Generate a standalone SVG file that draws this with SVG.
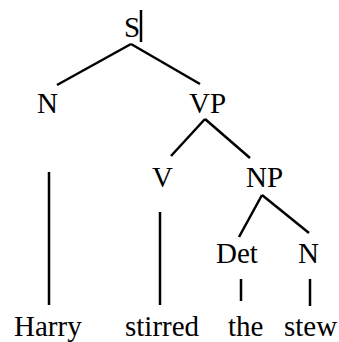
<svg xmlns="http://www.w3.org/2000/svg" width="339" height="342" viewBox="0 0 339 342">
<style>
text{font-family:"Liberation Serif","Times New Roman",serif;font-size:29px;fill:#000}
line{stroke:#000;stroke-width:2.5;stroke-linecap:butt}
</style>
<rect width="339" height="342" fill="#fff"/>
<g id="connectors">
<line x1="131" y1="44" x2="57" y2="85"/>
<line x1="131" y1="44" x2="200" y2="84"/>
<line x1="141" y1="10" x2="141" y2="42" stroke-width="1.5"/>
<line x1="205" y1="119" x2="171" y2="156"/>
<line x1="205" y1="119" x2="250" y2="158"/>
<line x1="49" y1="172" x2="49" y2="305"/>
<line x1="160" y1="212" x2="160" y2="305"/>
<line x1="262" y1="195" x2="239" y2="237"/>
<line x1="262" y1="195" x2="309" y2="233"/>
<line x1="241" y1="279" x2="241" y2="301"/>
<line x1="310" y1="279" x2="310" y2="306"/>
</g>
<g id="S"><text x="124" y="37">S</text></g>
<g id="N1"><text x="37" y="113">N</text></g>
<g id="VP"><text x="189" y="113">VP</text></g>
<g id="V"><text x="152" y="187">V</text></g>
<g id="NP"><text x="246" y="187">NP</text></g>
<g id="Det"><text x="216" y="263">Det</text></g>
<g id="N2"><text x="298" y="263">N</text></g>
<g id="Harry"><text x="14" y="336">Harry</text></g>
<g id="stirred"><text x="125" y="336">stirred</text></g>
<g id="the"><text x="228" y="336">the</text></g>
<g id="stew"><text x="284" y="336">stew</text></g>
</svg>
